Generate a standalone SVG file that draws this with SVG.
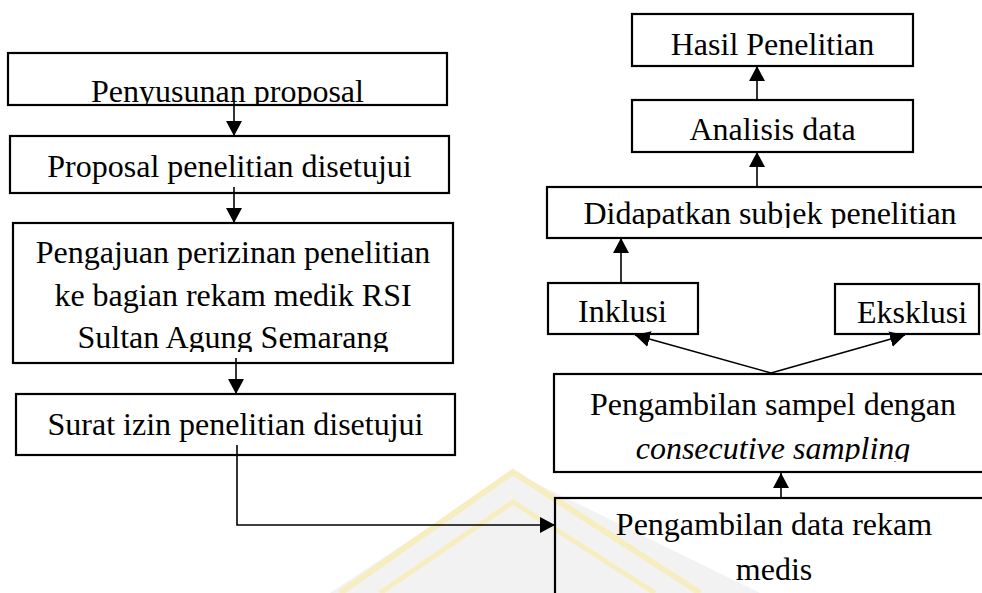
<svg xmlns="http://www.w3.org/2000/svg" width="982" height="593" viewBox="0 0 982 593">
<style>
.box{fill:none;stroke:#000;stroke-width:2.2}
.t{font-family:"Liberation Serif","Times New Roman",serif;font-size:32px;fill:#000;text-anchor:middle}
.ti{font-style:italic}
.c{fill:none;stroke:#000;stroke-width:1.6}
</style>
<defs>
<marker id="ah" markerUnits="userSpaceOnUse" markerWidth="16" markerHeight="16" refX="15" refY="8" orient="auto">
<path d="M0,0 L15,8 L0,16 z" fill="#000"/>
</marker>
<clipPath id="k1"><rect x="0" y="40" width="460" height="64"/></clipPath>
<clipPath id="k3"><rect x="0" y="220" width="460" height="132"/></clipPath>
<clipPath id="k5"><rect x="540" y="180" width="442" height="48"/></clipPath>
<clipPath id="k6"><rect x="540" y="280" width="170" height="43"/></clipPath>
<clipPath id="k7"><rect x="830" y="280" width="152" height="45"/></clipPath>
<clipPath id="k8"><rect x="540" y="370" width="442" height="92"/></clipPath>
</defs>

<g id="watermark" opacity="0.7">
<polygon points="513,472 330,593 760,593" fill="#ededed"/>
<polyline points="340,593 513,472 700,593" fill="none" stroke="#f3e7a6" stroke-width="6"/>
<polyline points="380,593 513,502 655,593" fill="none" stroke="#f3e7a6" stroke-width="5"/>
</g>

<g id="n1">
<rect class="box" x="8" y="53" width="439" height="52"/>
<text class="t" x="227.5" y="102" clip-path="url(#k1)">Penyusunan proposal</text>
</g>
<g id="n2">
<rect class="box" x="10" y="136" width="439" height="57"/>
<text class="t" x="229.5" y="177">Proposal penelitian disetujui</text>
</g>
<g id="n3">
<rect class="box" x="13" y="223" width="440" height="140"/>
<g clip-path="url(#k3)">
<text class="t" x="233" y="263">Pengajuan perizinan penelitian</text>
<text class="t" x="233" y="306">ke bagian rekam medik RSI</text>
<text class="t" x="233" y="348">Sultan Agung Semarang</text>
</g>
</g>
<g id="n4">
<rect class="box" x="16" y="394" width="439" height="61"/>
<text class="t" x="235.5" y="435">Surat izin penelitian disetujui</text>
</g>

<g id="n5">
<rect class="box" x="632" y="14" width="281" height="52"/>
<text class="t" x="772.5" y="55">Hasil Penelitian</text>
</g>
<g id="n6">
<rect class="box" x="632" y="100" width="281" height="52"/>
<text class="t" x="772.5" y="140">Analisis data</text>
</g>
<g id="n7">
<rect class="box" x="547" y="187" width="446" height="51"/>
<text class="t" x="770" y="224" clip-path="url(#k5)">Didapatkan subjek penelitian</text>
</g>
<g id="n8">
<rect class="box" x="548" y="283" width="150" height="51"/>
<text class="t" x="622.5" y="322" clip-path="url(#k6)">Inklusi</text>
</g>
<g id="n9">
<rect class="box" x="835" y="284" width="144" height="50"/>
<text class="t" x="912" y="323" clip-path="url(#k7)">Eksklusi</text>
</g>
<g id="n10">
<rect class="box" x="554" y="374" width="438" height="98"/>
<g clip-path="url(#k8)">
<text class="t" x="773" y="415">Pengambilan sampel dengan</text>
<text class="t ti" x="773" y="459">consecutive sampling</text>
</g>
</g>
<g id="n11">
<rect class="box" x="555" y="498" width="438" height="110"/>
<text class="t" x="774" y="535">Pengambilan data rekam</text>
<text class="t" x="774" y="580">medis</text>
</g>

<g id="connectors">
<line class="c" x1="234" y1="102" x2="234" y2="136" marker-end="url(#ah)"/>
<line class="c" x1="234" y1="187" x2="234" y2="223" marker-end="url(#ah)"/>
<line class="c" x1="236" y1="358" x2="236" y2="394" marker-end="url(#ah)"/>
<polyline class="c" points="237,445 237,525 555,525" marker-end="url(#ah)"/>
<line class="c" x1="781" y1="498" x2="781" y2="473" marker-end="url(#ah)"/>
<line class="c" x1="771" y1="373" x2="635" y2="335" marker-end="url(#ah)"/>
<line class="c" x1="771" y1="373" x2="905" y2="335" marker-end="url(#ah)"/>
<line class="c" x1="621" y1="283" x2="621" y2="238" marker-end="url(#ah)"/>
<line class="c" x1="757" y1="187" x2="757" y2="152" marker-end="url(#ah)"/>
<line class="c" x1="757" y1="100" x2="757" y2="66" marker-end="url(#ah)"/>
</g>
</svg>
